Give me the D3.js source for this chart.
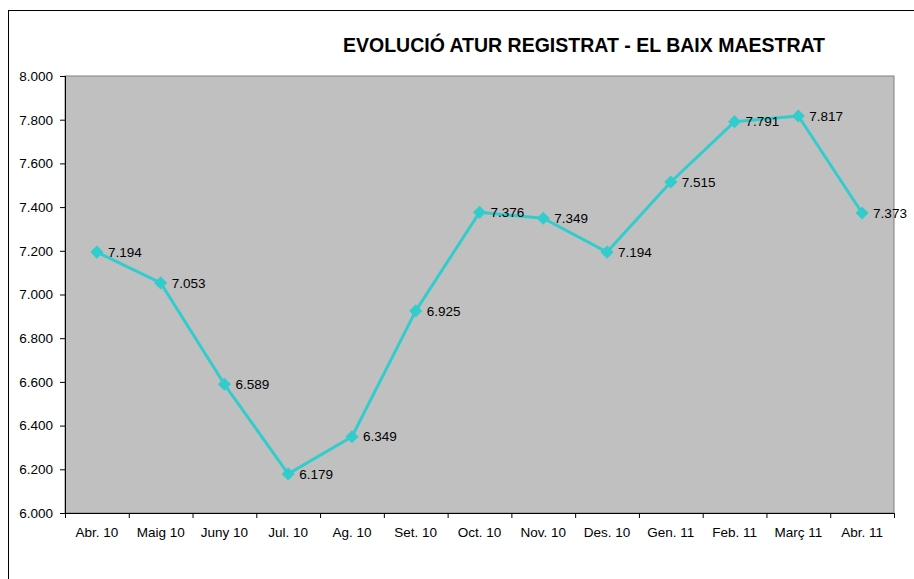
<!DOCTYPE html>
<html>
<head>
<meta charset="utf-8">
<script src="https://cdn.jsdelivr.net/npm/d3@7"></script>
<style>
  body { margin: 0; background: #fff; }
  svg { display: block; font-family: "Liberation Sans", Arial, sans-serif; }
</style>
</head>
<body>
<div id="chart"></div>
<script>
var months = ["Abr. 10", "Maig 10", "Juny 10", "Jul. 10", "Ag. 10", "Set. 10", "Oct. 10",
  "Nov. 10", "Des. 10", "Gen. 11", "Feb. 11", "Març 11", "Abr. 11"];
var atur = [7194, 7053, 6589, 6179, 6349, 6925, 7376, 7349, 7194, 7515, 7791, 7817, 7373];
var yTicks = [6000, 6200, 6400, 6600, 6800, 7000, 7200, 7400, 7600, 7800, 8000];
var title = "EVOLUCIÓ ATUR REGISTRAT - EL BAIX MAESTRAT";

var margin = { top: 76, right: 20, bottom: 66, left: 65 };
var width = 894 - margin.left;
var height = 513 - margin.top;
var font = "Liberation Sans, Arial, sans-serif";

var fmt = d3.formatLocale({ decimal: ",", thousands: ".", grouping: [3], currency: ["", "€"] }).format(",.0f");

var root = d3.select("#chart")
  .append("svg")
  .attr("width", 914)
  .attr("height", 579);

// outer frame
root.append("rect")
  .attr("x", 8.5).attr("y", 10.5)
  .attr("width", 914).attr("height", 600)
  .attr("fill", "none").attr("stroke", "#000").attr("stroke-width", 1);

root.append("text")
  .attr("x", 584).attr("y", 52)
  .attr("text-anchor", "middle")
  .attr("font-size", "19.5px")
  .attr("font-weight", "bold")
  .attr("font-family", font)
  .text(title);

var svg = root.append("g")
  .attr("transform", "translate(" + margin.left + "," + margin.top + ")");

var xScale = d3.scaleBand()
  .domain(months)
  .range([0, width]);

var yScale = d3.scaleLinear()
  .domain([6000, 8000])
  .range([height, 0]);

svg.append("rect")
  .attr("width", width).attr("height", height)
  .attr("fill", "#c0c0c0")
  .attr("stroke", "#808080");

var xAxis = svg.append("g")
  .attr("transform", "translate(0," + height + ")")
  .call(d3.axisBottom(xScale).tickSize(0).tickPadding(14));
xAxis.select(".domain").attr("stroke", "#000").attr("d", "M0,0.5H" + width);
xAxis.selectAll("text").attr("font-size", "13.5px").attr("fill", "#000").attr("font-family", font);
xAxis.selectAll(".bound")
  .data(d3.range(months.length + 1))
  .enter().append("line")
  .attr("x1", d => d * xScale.step() + 0.5)
  .attr("x2", d => d * xScale.step() + 0.5)
  .attr("y1", 0).attr("y2", 5)
  .attr("stroke", "#000");

var yAxis = svg.append("g")
  .call(d3.axisLeft(yScale).tickValues(yTicks).tickSize(5).tickPadding(7).tickFormat(fmt));
yAxis.select(".domain").attr("stroke", "#000").attr("d", "M0.5,0V" + height);
yAxis.selectAll("line").attr("stroke", "#000");
yAxis.selectAll("text").attr("font-size", "13.5px").attr("fill", "#000").attr("font-family", font);

var points = atur.map((v, i) => ({ m: months[i], v: v }));
var cx = d => xScale(d.m) + xScale.bandwidth() / 2;

svg.append("path")
  .datum(points)
  .attr("fill", "none")
  .attr("stroke", "#33cccc")
  .attr("stroke-width", 3)
  .attr("stroke-linejoin", "round")
  .attr("d", d3.line().x(cx).y(d => yScale(d.v)));

svg.selectAll(".marker")
  .data(points)
  .enter().append("path")
  .attr("class", "marker")
  .attr("d", d3.symbol().type(d3.symbolDiamond2).size(110))
  .attr("transform", d => "translate(" + cx(d) + "," + yScale(d.v) + ")")
  .attr("fill", "#33cccc");

svg.selectAll(".lbl")
  .data(points)
  .enter().append("text")
  .attr("class", "lbl")
  .attr("x", d => cx(d) + 11)
  .attr("y", d => yScale(d.v))
  .attr("dy", "0.35em")
  .attr("font-size", "13.5px")
  .attr("font-family", font)
  .attr("fill", "#000")
  .text(d => fmt(d.v));
</script>
</body>
</html>
